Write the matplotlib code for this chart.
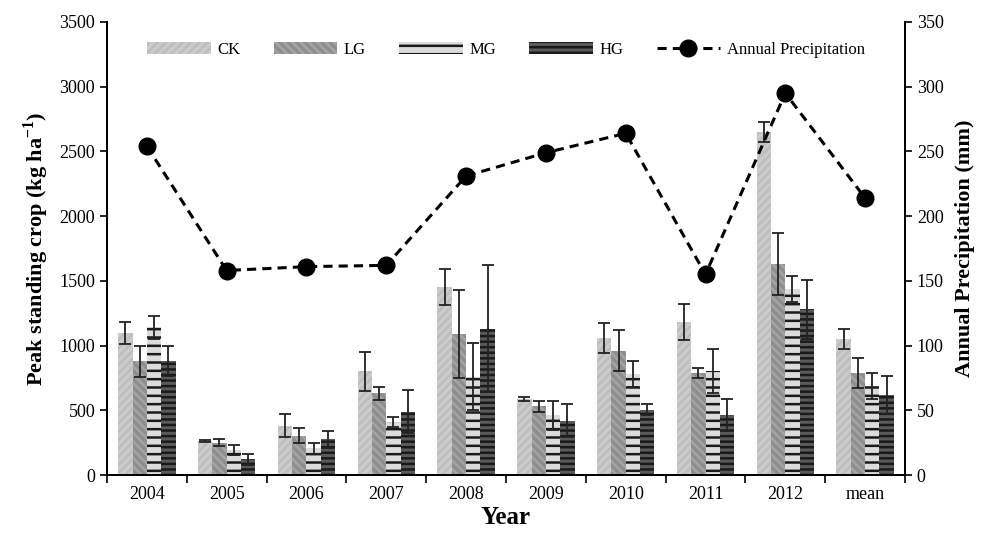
import numpy as np
import matplotlib.pyplot as plt

plt.rcParams['font.family'] = ['Liberation Serif', 'DejaVu Serif']
plt.rcParams['mathtext.fontset'] = 'custom'
plt.rcParams['mathtext.rm'] = 'Liberation Serif'
plt.rcParams['mathtext.bf'] = 'Liberation Serif:bold'
plt.rcParams['hatch.linewidth'] = 1.8

### Data
years = ['2004', '2005', '2006', '2007', '2008', '2009', '2010', '2011', '2012', 'mean']
ck = [1100, 265, 380, 800, 1450, 585, 1060, 1180, 2650, 1050]
ck_err = [85, 8, 90, 150, 140, 15, 115, 140, 80, 80]
lg = [880, 250, 305, 630, 1090, 530, 960, 790, 1630, 790]
lg_err = [120, 25, 55, 50, 340, 45, 160, 40, 240, 115]
mg = [1140, 195, 205, 410, 760, 460, 780, 800, 1440, 690]
mg_err = [90, 40, 40, 40, 260, 110, 100, 170, 100, 100]
hg = [880, 120, 275, 490, 1130, 420, 505, 465, 1280, 620]
hg_err = [115, 40, 65, 165, 490, 125, 45, 125, 230, 145]
precip = [254, 158, 161, 162, 231, 249, 264, 155, 295, 214]

### Plot
fig = plt.figure(figsize=(9.85, 5.35), dpi=100)
ax = fig.add_axes([0.1086, 0.1121, 0.8102, 0.8468])
ax2 = ax.twinx()

x = np.arange(len(years))
w = 0.18
series = [
    ('CK', ck, ck_err, '#cbcbcb', '#bdbdbd', '////'),
    ('LG', lg, lg_err, '#8e8e8e', '#a4a4a4', '\\\\\\\\'),
    ('MG', mg, mg_err, '#dcdcdc', '#1a1a1a', '--'),
    ('HG', hg, hg_err, '#5a5a5a', '#1a1a1a', '---'),
]
for k, (name, vals, errs, fc, hc, hatch) in enumerate(series):
    xpos = x + (k - 1.5) * w
    ax.bar(xpos, vals, w, color=fc, edgecolor=hc, hatch=hatch, linewidth=0,
           label=name, zorder=2)
    ax.errorbar(xpos, vals, yerr=errs, fmt='none', ecolor='#222222',
                elinewidth=1.3, capsize=4, capthick=1.3, zorder=3)

ax2.plot(x, precip, color='black', linestyle='--', linewidth=2.2, dashes=(3, 2),
         marker='o', markersize=12, label='Annual Precipitation', zorder=4)

### Axes
ax.set_xlim(-0.5, len(years) - 0.5)
ax.set_ylim(0, 3500)
ax.set_yticks(np.arange(0, 3501, 500))
ax2.set_ylim(0, 350)
ax2.set_yticks(np.arange(0, 351, 50))
ax.set_xticks(x)
ax.set_xticklabels(years)
ax.set_xticks(np.arange(-0.5, len(years), 1), minor=True)
ax.tick_params(axis='x', which='major', length=0, pad=8, labelsize=13)
ax.tick_params(axis='x', which='minor', length=6, width=1.2, direction='out')
ax.tick_params(axis='y', length=5, width=1.2, labelsize=13)
ax2.tick_params(axis='y', length=5, width=1.2, labelsize=13)

for a in (ax, ax2):
    a.spines['top'].set_visible(False)
    for s in ('left', 'right', 'bottom'):
        a.spines[s].set_linewidth(1.3)

ax.set_xlabel('Year', fontsize=18, fontweight='bold', labelpad=2)
ax.set_ylabel('Peak standing crop (kg ha$^{\\mathbf{-1}}$)', fontsize=16,
              fontweight='bold', labelpad=6)
ax2.set_ylabel('Annual Precipitation (mm)', fontsize=16, fontweight='bold',
               labelpad=8)

h1, l1 = ax.get_legend_handles_labels()
h2, l2 = ax2.get_legend_handles_labels()
ax2.legend(h1 + h2, l1 + l2, loc='upper center', bbox_to_anchor=(0.5, 0.99),
           ncol=5, frameon=False, fontsize=12, handlelength=3.8,
           columnspacing=2.0, handletextpad=0.4)

fig.savefig('out.png', dpi=100)
